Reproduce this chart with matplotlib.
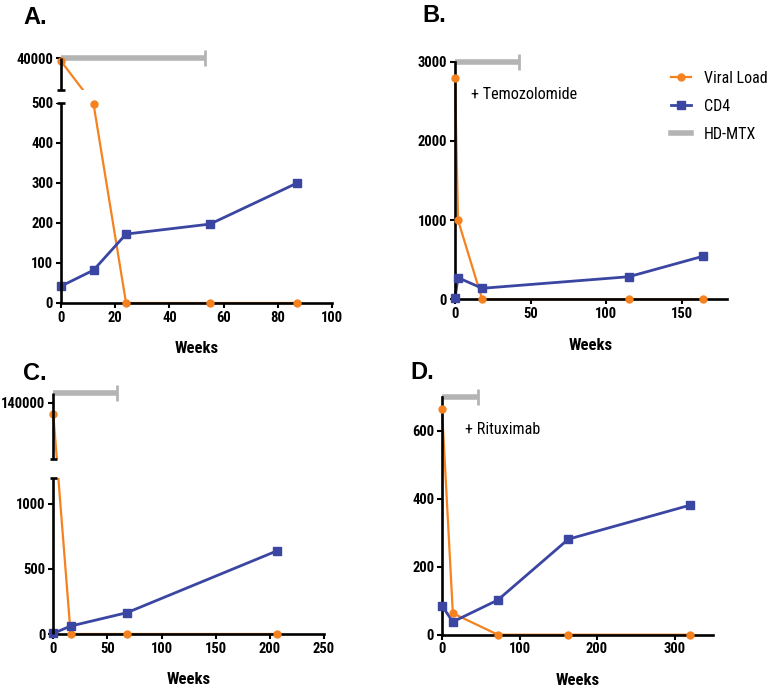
import numpy as np
import matplotlib
matplotlib.use('Agg')
import matplotlib.pyplot as plt
from matplotlib import font_manager
from matplotlib.lines import Line2D
from matplotlib.patches import Rectangle

# panel A
a_weeks = [0, 12, 24, 55, 87]
a_viral_load = [39500, 497, 0, 0, 0]
a_cd4 = [42, 82, 172, 197, 299]
a_mtx = [0, 53]
a_xticks = [0, 20, 40, 60, 80, 100]
a_yticks = [0, 100, 200, 300, 400, 500, 40000]

# panel B
b_weeks = [0, 2, 18, 115, 164]
b_viral_load = [2800, 1000, 0, 0, 0]
b_cd4 = [20, 273, 139, 285, 543]
b_mtx = [0, 42.5]
b_xticks = [0, 50, 100, 150]
b_yticks = [0, 1000, 2000, 3000]

# panel C
c_weeks = [0, 16, 68, 207]
c_viral_load = [136000, 0, 0, 0]
c_cd4 = [5, 61, 164, 641]
c_mtx = [0, 59]
c_xticks = [0, 50, 100, 150, 200, 250]
c_yticks = [0, 500, 1000, 140000]

# panel D
d_weeks = [0, 14, 72, 163, 320]
d_viral_load = [663, 63, 0, 0, 0]
d_cd4 = [85, 38, 102, 281, 381]
d_mtx = [0, 47]
d_xticks = [0, 100, 200, 300]
d_yticks = [0, 200, 400, 600]

ORANGE = '#f5821f'
BLUE = '#3a46a2'
GRAY = '#b4b4b4'
SPINE_W = 1.9

names = {f.name for f in font_manager.fontManager.ttflist}
narrow = 'Liberation Sans'
for cand in ['Roboto Condensed', 'Archivo Narrow', 'Liberation Sans Narrow']:
    if cand in names:
        narrow = cand
        break
plt.rcParams['font.family'] = [narrow, 'DejaVu Sans']

W, H = 773, 689
fig = plt.figure(figsize=(W / 100, H / 100), dpi=100)


def px_axes(left, right, top, bottom):
    # pixel box -> figure fraction
    return fig.add_axes([left / W, 1 - bottom / H, (right - left) / W, (bottom - top) / H])


def broken_scale(ax, low_top, up_lo, up_hi, gap_u, span_u):
    def fwd(y):
        y = np.asarray(y, float)
        mid = low_top + (y - low_top) / (up_lo - low_top) * gap_u
        up = low_top + gap_u + (y - up_lo) / (up_hi - up_lo) * span_u
        return np.where(y <= low_top, y, np.where(y <= up_lo, mid, up))

    def inv(t):
        t = np.asarray(t, float)
        mid = low_top + (t - low_top) / gap_u * (up_lo - low_top)
        up = up_lo + (t - low_top - gap_u) / span_u * (up_hi - up_lo)
        return np.where(t <= low_top, t, np.where(t <= low_top + gap_u, mid, up))

    ax.set_yscale('function', functions=(fwd, inv))
    ax.spines['left'].set_visible(False)
    tr = ax.get_yaxis_transform()
    # hide what falls in the gap
    ax.add_patch(Rectangle((-0.03, low_top), 1.06, up_lo - low_top, transform=tr,
                           facecolor='white', edgecolor='none', zorder=2.6, clip_on=False))
    for y0, y1 in [(0, low_top), (up_lo, up_hi)]:
        ax.plot([0, 0], [y0, y1], transform=tr, color='k', lw=SPINE_W,
                solid_capstyle='butt', clip_on=False, zorder=4)
    for y in [low_top, up_lo]:
        ax.plot([-0.013, 0.013], [y, y], transform=tr, color='k', lw=SPINE_W,
                solid_capstyle='butt', clip_on=False, zorder=4)


def draw_panel(ax, weeks, vl, cd4, mtx, xlim, ylim, xticks, yticks):
    ax.set_xlim(*xlim)
    ax.set_ylim(*ylim)
    ax.plot(weeks, vl, color=ORANGE, lw=1.6, zorder=2, clip_on=False)
    ax.plot(weeks, cd4, color=BLUE, lw=2.0, zorder=2.2, clip_on=False)
    ax.plot(weeks, vl, ls='none', marker='o', ms=5, color=ORANGE, zorder=3, clip_on=False)
    ax.plot(weeks, cd4, ls='none', marker='s', ms=5.5, color=BLUE, zorder=3.2, clip_on=False)
    top = ylim[1]
    ax.plot(mtx, [top, top], color=GRAY, lw=4, solid_capstyle='butt', zorder=1.5, clip_on=False)
    ax.plot([mtx[1]], [top], ls='none', marker='|', ms=12, mew=2, color=GRAY,
            zorder=1.5, clip_on=False)
    for s in ['top', 'right']:
        ax.spines[s].set_visible(False)
    for s in ['left', 'bottom']:
        ax.spines[s].set_linewidth(SPINE_W)
    ax.tick_params(direction='out', length=3.6, width=1.5, pad=2, colors='k')
    ax.set_xticks(xticks, [str(v) for v in xticks], fontweight='bold', fontsize=10.5)
    ax.set_yticks(yticks, [str(v) for v in yticks], fontweight='bold', fontsize=10.5)
    ax.set_xlabel('Weeks', fontweight='bold', fontsize=12, labelpad=12)


axA = px_axes(61, 332, 58, 303)
broken_scale(axA, 500, 35000, 40000, 32.5, 79)
draw_panel(axA, a_weeks, a_viral_load, a_cd4, a_mtx, (0, 100), (0, 40000), a_xticks, a_yticks)

axB = px_axes(455, 727, 61.7, 299.3)
draw_panel(axB, b_weeks, b_viral_load, b_cd4, b_mtx, (0, 180), (0, 3000), b_xticks, b_yticks)
axB.text(10.4, 2592, '+ Temozolomide', fontsize=11.6, va='center', ha='left')

axC = px_axes(53.3, 324, 392.7, 634)
broken_scale(axC, 1200, 120000, 143500, 144, 512)
draw_panel(axC, c_weeks, c_viral_load, c_cd4, c_mtx, (0, 250), (0, 143500), c_xticks, c_yticks)

axD = px_axes(442, 713.3, 396.7, 634.7)
draw_panel(axD, d_weeks, d_viral_load, d_cd4, d_mtx, (0, 350), (0, 700), d_xticks, d_yticks)
axD.text(29.7, 604, '+ Rituximab', fontsize=11.6, va='center', ha='left')

for letter, x, y in [('A.', 23, 17), ('B.', 422, 16), ('C.', 23, 373), ('D.', 410, 372)]:
    fig.text(x / W, 1 - y / H, letter, fontsize=17, fontweight='bold',
             family=['Liberation Sans', 'DejaVu Sans'], ha='left', va='center')

handles = [
    Line2D([], [], color=ORANGE, lw=1.6, marker='o', ms=5),
    Line2D([], [], color=BLUE, lw=2.0, marker='s', ms=5.5),
    Line2D([], [], color=GRAY, lw=4),
]
fig.legend(handles, ['Viral Load', 'CD4', 'HD-MTX'], loc='upper left',
           bbox_to_anchor=(671 / W, 1 - 71 / H), frameon=False, fontsize=11.5,
           handlelength=1.25, handletextpad=0.8, labelspacing=0.8,
           borderpad=0, borderaxespad=0)

fig.savefig('out.png', dpi=100)
